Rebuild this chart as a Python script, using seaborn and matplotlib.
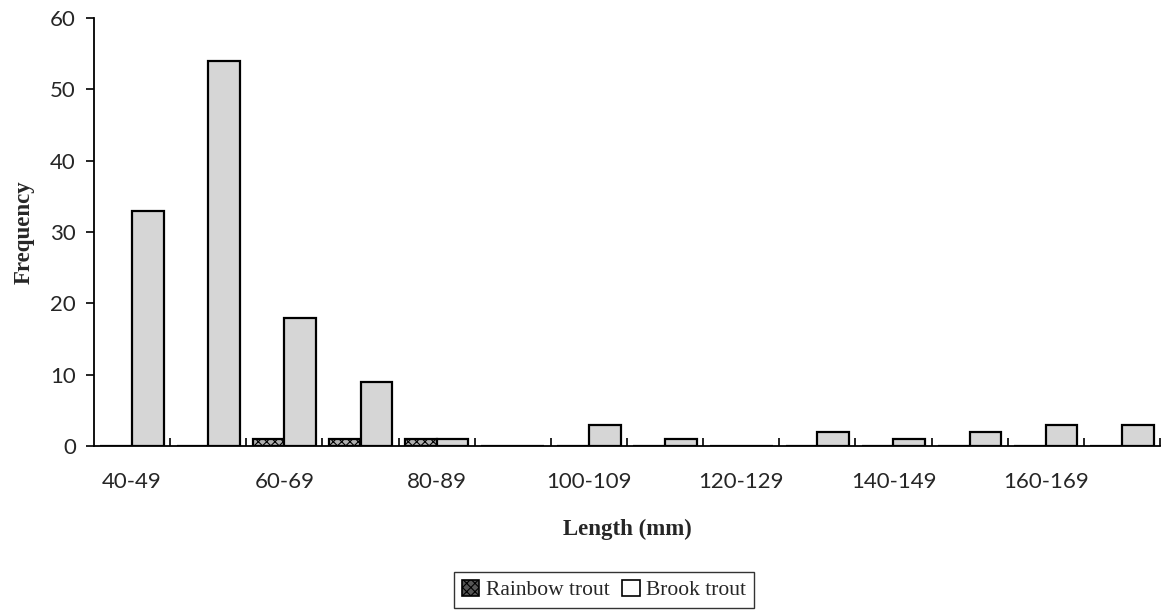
import matplotlib
matplotlib.use("Agg")
import matplotlib.pyplot as plt
import seaborn as sns
import pandas as pd
from matplotlib.ticker import FixedLocator

categories = ["40-49", "50-59", "60-69", "70-79", "80-89", "90-99", "100-109",
              "110-119", "120-129", "130-139", "140-149", "150-159", "160-169", "170-179"]
rainbow = [0, 0, 1, 1, 1, 0, 0, 0, 0, 0, 0, 0, 0, 0]
brook = [33, 54, 18, 9, 1, 0, 3, 1, 0, 2, 1, 2, 3, 3]
series_names = ["Rainbow trout", "Brook trout"]
yticks = [0, 10, 20, 30, 40, 50, 60]

df = pd.DataFrame({
    "Length": categories * 2,
    "Frequency": rainbow + brook,
    "Species": [series_names[0]] * len(categories) + [series_names[1]] * len(categories),
})

sns.set_style("ticks")
plt.rcParams["font.family"] = ["Liberation Serif", "DejaVu Serif"]
plt.rcParams["hatch.linewidth"] = 0.8

fig = plt.figure(figsize=(11.66, 6.11), dpi=100)
ax = fig.add_axes([94 / 1166, 1 - 446 / 611, (1160 - 94) / 1166, (446 - 18) / 611])

sns.barplot(data=df, x="Length", y="Frequency", hue="Species", order=categories,
            hue_order=series_names, palette={series_names[0]: "#b0b0b0", series_names[1]: "#d6d6d6"},
            width=0.83, edgecolor="black", linewidth=1.6, saturation=1, ax=ax, legend=True)

for bar in ax.containers[0]:
    bar.set_hatch("xxxx")

ax.set_ylim(0, 60)
ax.set_xlim(-0.5, len(categories) - 0.5)
ax.set_yticks(yticks)
ax.set_yticklabels([str(v) for v in yticks], family="Lato", fontsize=16)

major_pos = list(range(0, len(categories), 2))
ax.set_xticks(major_pos)
ax.set_xticklabels([categories[i] for i in major_pos], family="Lato", fontsize=16)
ax.xaxis.set_minor_locator(FixedLocator([i + 0.5 for i in range(len(categories))]))
ax.tick_params(axis="x", which="major", length=0, pad=19)
ax.tick_params(axis="x", which="minor", length=6, direction="in", width=1.2, color="black")
ax.tick_params(axis="y", which="major", length=6, direction="out", width=1.2, color="black", pad=7)

for side in ["top", "right"]:
    ax.spines[side].set_visible(False)
for side in ["left", "bottom"]:
    ax.spines[side].set_color("black")
    ax.spines[side].set_linewidth(1.3)

ax.set_xlabel("Length (mm)", fontsize=16.5, fontweight="bold", labelpad=19)
ax.set_ylabel("Frequency", fontsize=16.5, fontweight="bold", labelpad=11)

handles, labels = ax.get_legend_handles_labels()
ax.get_legend().remove()
handles[0].set_facecolor("#555555")
handles[0].set_hatch("xxxx")
handles[1].set_facecolor("white")
for h in handles:
    h.set_edgecolor("black")
    h.set_linewidth(1.2)
leg = fig.legend(handles, labels, loc="center", bbox_to_anchor=(604 / 1166, 1 - 590 / 611),
                 ncol=2, frameon=True, fancybox=False, fontsize=15.5, handlelength=0.8,
                 handleheight=0.8, handletextpad=0.3, columnspacing=0.6, borderpad=0.35)
leg.get_frame().set_edgecolor("black")
leg.get_frame().set_linewidth(1.0)

fig.savefig("out.png", dpi=100)
